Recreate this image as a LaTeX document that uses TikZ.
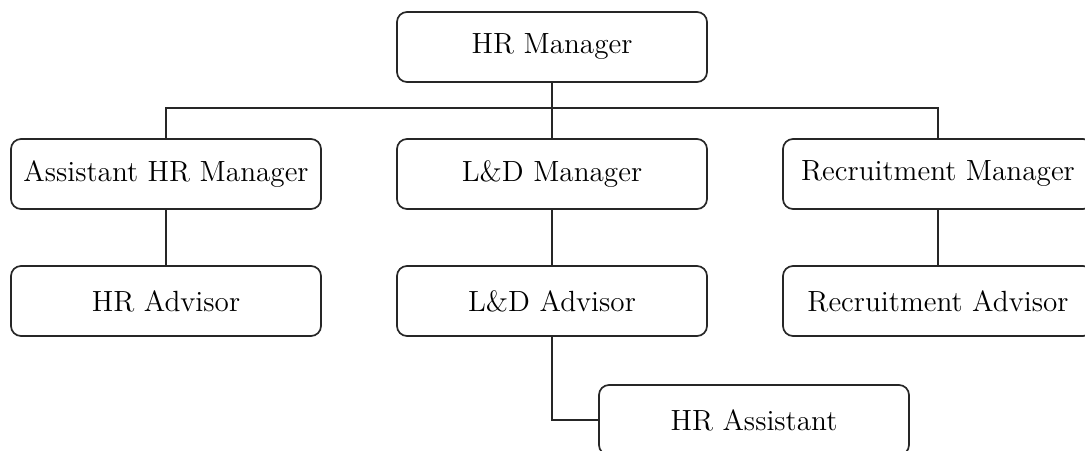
\documentclass[tikz,border=0pt]{standalone}
\usepackage{tikz}
\usetikzlibrary{positioning,calc}
\tikzstyle{post} = [rectangle, draw=black!85, line width=0.85pt, rounded corners=5pt, minimum width=155pt, minimum height=35pt, text centered, font=\fontsize{14.6}{17}\selectfont]
\tikzstyle{link} = [draw=black!85, line width=0.85pt]

\begin{document}
\begin{tikzpicture}[node distance = 63.5pt and 193pt, on grid]
    % Page frame (picture is cropped on the right and bottom)
    \clip (-276pt,23.5pt) rectangle (266.5pt,-201.5pt);
    \useasboundingbox (-276pt,23.5pt) rectangle (266.5pt,-201.5pt);
    % Place nodes
    \node [post] (mgr) {HR Manager};
    \node [post, below=of mgr] (ldm) {L\&D Manager};
    \node [post, left=of ldm] (ahrm) {Assistant HR Manager};
    \node [post, right=of ldm] (recm) {Recruitment Manager};
    \node [post, below=of ahrm] (hra) {HR Advisor};
    \node [post, below=of ldm] (lda) {L\&D Advisor};
    \node [post, below=of recm] (reca) {Recruitment Advisor};
    \node [post, below right=59.5pt and 101pt of lda] (hras) {HR Assistant};
    % Draw edges
    \coordinate (bus) at ($(mgr.south)!0.45!(ldm.north)$);
    \path [link] (mgr.south) -- (ldm.north);
    \path [link] (ahrm.north) |- (bus) -| (recm.north);
    \path [link] (ahrm) -- (hra);
    \path [link] (ldm) -- (lda);
    \path [link] (recm) -- (reca);
    \path [link] (lda.south) |- (hras.west);
\end{tikzpicture}
\end{document}
